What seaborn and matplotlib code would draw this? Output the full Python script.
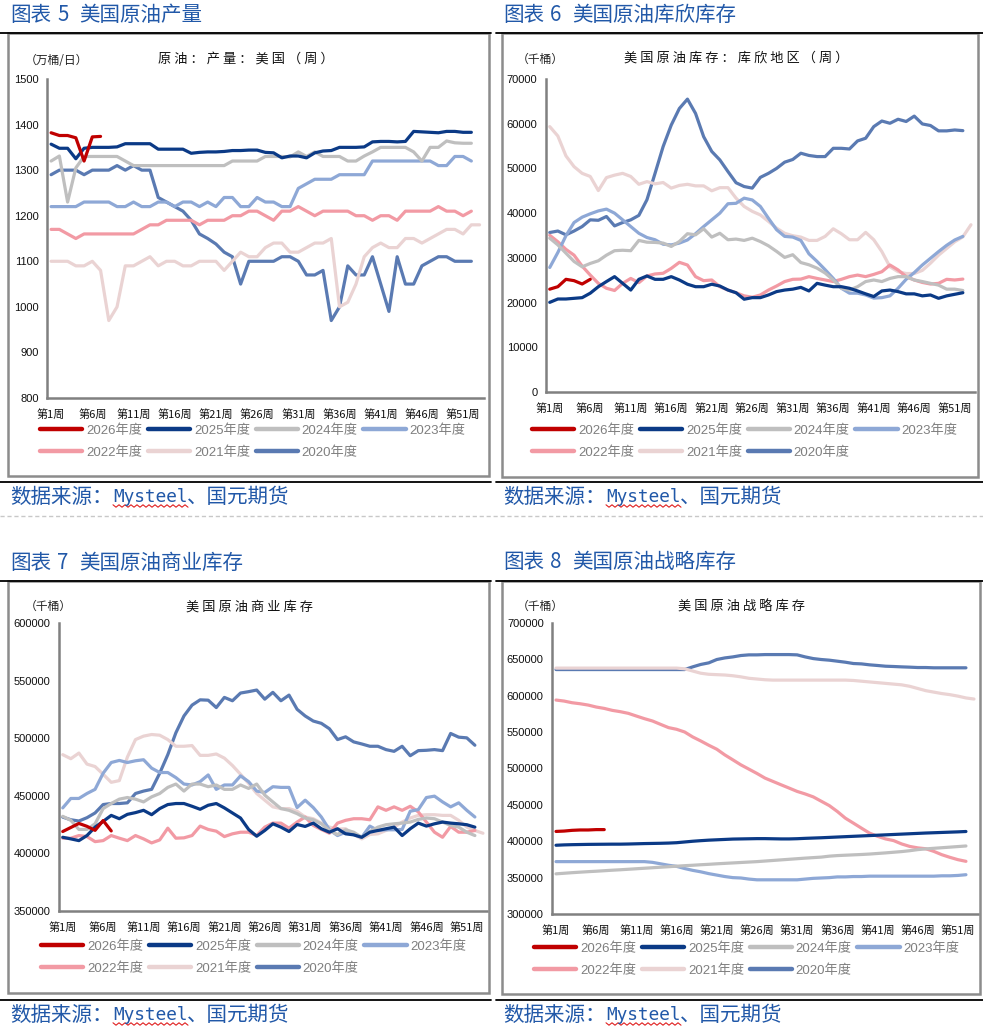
import numpy as np
import pandas as pd
import matplotlib
matplotlib.use("Agg")
import matplotlib.pyplot as plt
import seaborn as sns
from matplotlib.lines import Line2D
from matplotlib.patches import Rectangle

# ---------------- data ----------------
years = ["2026年度", "2025年度", "2024年度", "2023年度", "2022年度", "2021年度", "2020年度"]
week_tick_values = [1, 6, 11, 16, 21, 26, 31, 36, 41, 46, 51]
week_tick_labels = ["第%d周" % w for w in week_tick_values]

# Panel 1: US crude production (万桶/日)
prod_2026 = [1382, 1376, 1376, 1371, 1320, 1373, 1374]
prod_2025 = [1357, 1348, 1348, 1325, 1348, 1350, 1350, 1350, 1351, 1358, 1358, 1358, 1358, 1346, 1346, 1346, 1346,
             1337, 1339, 1340, 1340, 1341, 1343, 1343, 1344, 1344, 1339, 1338, 1327, 1331, 1331, 1327, 1338, 1342,
             1343, 1350, 1350, 1350, 1351, 1362, 1363, 1363, 1362, 1363, 1385, 1384, 1383, 1382, 1385, 1385, 1383, 1383]
prod_2024 = [1320, 1331, 1230, 1305, 1330, 1330, 1330, 1330, 1330, 1320, 1310, 1310, 1310, 1310, 1310, 1310, 1310,
             1310, 1310, 1310, 1310, 1310, 1320, 1320, 1320, 1320, 1330, 1330, 1330, 1329, 1340, 1330, 1340, 1330,
             1330, 1330, 1320, 1320, 1331, 1340, 1350, 1350, 1350, 1350, 1340, 1320, 1350, 1350, 1364, 1360, 1359, 1359]
prod_2023 = [1220, 1220, 1220, 1220, 1230, 1230, 1230, 1230, 1220, 1220, 1230, 1220, 1220, 1230, 1230, 1220, 1230,
             1230, 1220, 1230, 1220, 1240, 1240, 1220, 1220, 1240, 1230, 1230, 1220, 1220, 1260, 1270, 1280, 1280,
             1280, 1290, 1290, 1290, 1290, 1320, 1320, 1320, 1320, 1320, 1320, 1320, 1320, 1310, 1310, 1330, 1330, 1320]
prod_2022 = [1170, 1170, 1160, 1150, 1160, 1160, 1160, 1160, 1160, 1160, 1160, 1170, 1180, 1180, 1190, 1190, 1190,
             1190, 1180, 1190, 1190, 1190, 1200, 1200, 1210, 1210, 1200, 1190, 1210, 1210, 1220, 1210, 1200, 1210,
             1210, 1210, 1210, 1200, 1200, 1190, 1200, 1200, 1190, 1210, 1210, 1210, 1210, 1220, 1210, 1210, 1200, 1210]
prod_2021 = [1100, 1100, 1100, 1090, 1090, 1100, 1080, 970, 1000, 1090, 1090, 1100, 1110, 1090, 1100, 1100, 1090,
             1090, 1100, 1100, 1100, 1080, 1100, 1120, 1110, 1110, 1130, 1140, 1140, 1120, 1120, 1130, 1140, 1140,
             1150, 1000, 1010, 1050, 1110, 1130, 1140, 1130, 1130, 1150, 1150, 1140, 1150, 1160, 1170, 1170, 1160,
             1180, 1180]
prod_2020 = [1290, 1300, 1300, 1300, 1290, 1300, 1300, 1300, 1310, 1300, 1310, 1300, 1300, 1240, 1230, 1220, 1210,
             1190, 1160, 1150, 1138, 1120, 1110, 1050, 1100, 1100, 1100, 1100, 1110, 1110, 1100, 1070, 1070, 1080,
             970, 1000, 1090, 1070, 1070, 1110, 1050, 990, 1110, 1050, 1050, 1090, 1100, 1110, 1110, 1100, 1100, 1100]

# Panel 2: Cushing crude stocks (千桶)
cush_2026 = [23000, 23550, 25200, 24900, 24150, 25200]
cush_2025 = [20050, 20800, 20800, 20950, 21100, 22100, 23550, 24700, 25800, 24300, 22800, 25200, 25950, 25200,
             25200, 25800, 25050, 24100, 23550, 23550, 24100, 23700, 22800, 22200, 20750, 21100, 21100, 21700,
             22450, 22800, 23000, 23400, 22600, 24300, 23900, 23550, 23550, 23200, 22600, 21950, 21350, 22600,
             22800, 22450, 21950, 21950, 21500, 21700, 20950, 21500, 21850, 22200]
cush_2024 = [34400, 32900, 31050, 29200, 28000, 28750, 29350, 30600, 31600, 31700, 31600, 33900, 33500, 33450,
             33300, 32550, 33650, 35400, 35150, 36500, 34650, 35500, 34050, 34200, 33900, 34400, 33650, 32700,
             31450, 30100, 30700, 28950, 28450, 27700, 26600, 25050, 23200, 22800, 23550, 24700, 25050, 24700,
             25400, 25800, 25800, 25050, 24700, 24300, 23900, 23000, 23000, 22700]
cush_2023 = [27850, 31200, 34950, 37900, 39100, 39850, 40500, 40900, 40000, 38500, 37000, 35500, 34550, 34050,
             33050, 32900, 33300, 34000, 35400, 37000, 38500, 40000, 42100, 42200, 43350, 42950, 41500, 38850,
             36300, 34800, 34650, 33900, 30900, 29200, 27350, 25400, 23200, 22100, 22100, 21700, 21000, 21100,
             21500, 23200, 25200, 26700, 28400, 29900, 31400, 32800, 34000, 34800]
cush_2022 = [35050, 33600, 31900, 30600, 28150, 26150, 24300, 23200, 22700, 24300, 25400, 24450, 25950, 26400,
             26550, 27650, 29000, 28400, 25800, 24900, 25050, 23550, 22800, 22200, 21500, 21200, 21700, 22800,
             23700, 24700, 25200, 25250, 25800, 25400, 25050, 24700, 25200, 25800, 26150, 25800, 26300, 26900,
             28400, 27300, 25800, 25050, 24500, 24150, 24300, 25200, 25050, 25250]
cush_2021 = [59350, 57250, 52800, 50400, 48900, 48200, 45050, 47950, 48500, 48900, 48200, 46450, 47050, 46550,
             46850, 45600, 46200, 46450, 46100, 46100, 45000, 45700, 45700, 43350, 41500, 40400, 39600, 38150,
             36650, 35500, 34950, 34650, 33900, 33900, 34800, 36500, 35400, 34050, 34050, 35700, 34050, 31400,
             28000, 26900, 26500, 26500, 27200, 28800, 30600, 32100, 33600, 34700, 37400]
cush_2020 = [35670, 36000, 35150, 36000, 37000, 38500, 38400, 39250, 37150, 37900, 38500, 39500, 43000, 48900,
             54900, 59700, 63400, 65500, 62300, 57100, 53800, 51900, 49300, 46800, 45950, 45600, 48000, 48900,
             50000, 51400, 52000, 53400, 52900, 52650, 52650, 54500, 54500, 54350, 56150, 56750, 59350, 60600,
             60100, 61000, 60500, 61700, 59950, 59600, 58400, 58400, 58600, 58450]

# Panel 3: US commercial crude stocks (千桶)
comm_2026 = [419000, 422500, 426000, 423500, 420000, 428500, 419500]
comm_2025 = [414000, 412600, 411100, 415500, 422800, 427800, 433000, 430100, 433900, 435400, 437400, 433600,
             438900, 442400, 443300, 443300, 440900, 438300, 441800, 443300, 439500, 435100, 430700, 420800,
             414900, 419900, 425700, 422800, 419000, 425100, 423400, 426300, 421400, 418400, 421400, 417000,
             416100, 414000, 418400, 419900, 421400, 422800, 415500, 421400, 426300, 423700, 425700, 427200,
             426300, 425700, 424900, 422800]
comm_2024 = [432200, 428700, 420800, 420800, 425700, 438900, 443300, 447100, 448500, 447100, 444700, 449100,
             452000, 457300, 460200, 454100, 460200, 460200, 457900, 459400, 455600, 455600, 459400, 456400,
             460200, 450600, 444700, 438900, 437400, 434500, 430700, 429200, 425700, 419900, 416400, 420500,
             418400, 414000, 419000, 422800, 424900, 425700, 426300, 427200, 429500, 430700, 430100, 427200,
             424300, 422800, 418400, 415500]
comm_2023 = [439500, 447700, 447700, 452000, 455600, 469600, 478900, 480700, 478900, 480400, 481300, 474000,
             470200, 470200, 465800, 460200, 459400, 462300, 468100, 455600, 459400, 459400, 467300, 462300,
             454100, 452900, 457900, 457300, 457300, 439800, 446200, 439800, 431600, 420500, 415500, 418400,
             416400, 414000, 423700, 419900, 420500, 420500, 420800, 436600, 438000, 448500, 449700, 444700,
             440400, 443900, 437400, 431600]
comm_2022 = [413200, 413200, 415500, 414600, 410200, 411100, 415500, 413200, 411100, 415500, 412600, 409100,
             411700, 421900, 413200, 413500, 415500, 423700, 420800, 419300, 414600, 417000, 418400, 418400,
             415500, 422800, 426300, 426300, 421900, 427200, 431600, 424300, 420800, 417500, 426300, 428700,
             430100, 430100, 429200, 440400, 437400, 440400, 437400, 440900, 436000, 427200, 418400, 414000,
             423400, 418400, 418400, 419900]
comm_2021 = [485700, 482200, 487100, 477500, 475400, 468700, 461700, 463200, 483600, 498800, 501800, 503200,
             502600, 498800, 493000, 493000, 493600, 485100, 485100, 486300, 482700, 476300, 468700, 460800,
             452000, 446200, 440400, 438900, 438900, 436600, 431600, 430100, 426300, 422800, 421100, 421400,
             416400, 412600, 416400, 417000, 419900, 422800, 427200, 430700, 433000, 433600, 433600, 433000,
             433000, 428700, 422800, 419900, 417500]
comm_2020 = [431500, 429200, 428100, 431000, 435100, 442400, 443300, 443300, 443900, 452000, 454100, 455600,
             469600, 485700, 504700, 519300, 528700, 533300, 533000, 526600, 535400, 532500, 539200, 540400,
             541800, 533900, 539800, 532500, 537400, 525100, 519300, 514900, 512900, 508200, 498800, 501200,
             496800, 495000, 493000, 493000, 490100, 488600, 493000, 484800, 489200, 489500, 490100, 489200,
             504100, 500900, 500300, 493900]

# Panel 4: US strategic petroleum reserve (千桶)
spr_2026 = [413500, 414000, 415000, 415500, 415500, 416000, 416000]
spr_2025 = [394500, 395000, 395300, 395500, 395700, 395800, 395900, 396000, 396000, 396200,
            396500, 396800, 397000, 397200, 397500, 398000, 399000, 400000, 400800, 401500,
            402000, 402500, 403000, 403200, 403400, 403600, 403600, 403400, 403200, 403200,
            403500, 404000, 404400, 404800, 405300, 405800, 406300, 406800, 407300, 407800,
            408300, 408800, 409300, 409800, 410300, 410800, 411300, 411700, 412100, 412500, 412900, 413400]
spr_2024 = [355200, 356000, 356800, 357500, 358200, 358800, 359500, 360200, 360800, 361500,
            362200, 362900, 363600, 364300, 365000, 365700, 366400, 367000, 367700, 368300,
            369000, 369600, 370200, 370800, 371400, 372000, 372800, 373600, 374400, 375200,
            376000, 376800, 377500, 378200, 379500, 380300, 380800, 381300, 381800, 382400,
            383200, 384000, 384900, 385800, 387000, 388500, 389500, 390300, 391100, 391900, 392700, 393500]
spr_2023 = [372000, 372000, 372000, 372000, 372000, 372000, 372000, 372000, 372000, 372000, 372000, 372000,
            371000, 369000, 367000, 365500, 362500, 360000, 358000, 355500, 353500, 351500, 350000, 349500,
            348000, 347000, 347000, 347000, 347000, 347000, 347000, 348000, 349000, 349500, 350000, 351000,
            351000, 351500, 351500, 352000, 352000, 352000, 352000, 352000, 352000, 352000, 352000, 352000,
            352500, 352500, 353000, 354000]
spr_2022 = [594100, 592700, 590400, 589000, 587200, 584500, 582600, 579900, 578100, 575800,
            572100, 568500, 565300, 560700, 556200, 553900, 550200, 543400, 537900, 532000,
            526500, 518700, 511900, 505000, 499100, 493200, 486800, 482200, 477600, 473100,
            468500, 465000, 461000, 455000, 449000, 440900, 431700, 424900, 418000, 411200,
            406800, 403200, 400900, 396300, 392900, 390900, 389700, 386100, 381500, 377900, 374700, 372400]
spr_2021 = [638000] * 16 + [637000, 634000, 631000, 629500, 629000, 628500, 627500, 626000, 624000, 623000,
                            622000, 621500, 621500, 621500, 621500, 621500, 621500, 621500, 621500, 621500,
                            621500, 621000, 620000, 619000, 618000, 617000, 616000, 615000, 613000, 610000,
                            607000, 605000, 603000, 601500, 599500, 597000, 595500]
spr_2020 = [636000] * 17 + [639700, 643000, 645200, 649800, 652000, 653400, 655300, 656200, 656200, 656600,
                            656600, 656600, 656600, 656200, 653400, 651100, 649800, 648900, 647500, 646100,
                            644300, 643800, 642500, 641600, 640600, 640200, 639700, 639300, 638800, 638800,
                            638400, 638400, 638400, 638400, 638400]

colors = {
    "2026年度": "#C00000",
    "2025年度": "#0B3A86",
    "2024年度": "#BFBFBF",
    "2023年度": "#8EA8D6",
    "2022年度": "#F29AA4",
    "2021年度": "#EAD3D3",
    "2020年度": "#5A7AB2",
}

# ---------------- style ----------------
sns.set_style("white")
plt.rcParams["font.family"] = ["Liberation Sans", "Noto Sans CJK SC"]
plt.rcParams["axes.unicode_minus"] = False

W, H = 983, 1032
fig = plt.figure(figsize=(W / 100, H / 100), dpi=100)
fig.patch.set_facecolor("white")

CJK = ["Noto Sans CJK SC", "DejaVu Sans"]
BLUE = "#2158A8"
GRAY = "#808080"


def fx(x):
    return x / W


def fy(y):
    return 1 - y / H


def hline(x0, x1, y, **kw):
    fig.add_artist(Line2D([fx(x0), fx(x1)], [fy(y), fy(y)], transform=fig.transFigure, **kw))


def box(x0, y0, x1, y1):
    fig.add_artist(Rectangle((fx(x0), fy(y1)), (x1 - x0) / W, (y1 - y0) / H, transform=fig.transFigure,
                             fill=False, ec="#8C8C8C", lw=1.8))


def make_df(series):
    rows = []
    for yr, vals in zip(years, series):
        for i, v in enumerate(vals):
            rows.append({"week": i + 1, "value": v, "year": yr})
    return pd.DataFrame(rows)


def spaced(s):
    return " ".join(list(s))


def panel(rect, series, ylim, yticks, title, title_xy, unit, unit_xy, legend_xy):
    l, t, r, b = rect
    ax = fig.add_axes([fx(l), fy(b), (r - l) / W, (b - t) / H])
    df = make_df(series)
    sns.lineplot(data=df, x="week", y="value", hue="year", hue_order=years, palette=colors,
                 linewidth=2.3, estimator=None, sort=False, ax=ax, legend=True)
    for i, ln in enumerate(ax.lines):
        ln.set_zorder(10 - i)
        ln.set_solid_joinstyle("round")
    ax.set_xlim(0.5, 53.5)
    ax.set_ylim(*ylim)
    ax.set_yticks(yticks)
    ax.set_yticklabels([str(v) for v in yticks])
    ax.set_xticks(week_tick_values)
    ax.set_xticklabels(week_tick_labels, family=CJK)
    ax.set_xticks(np.arange(0.5, 54.0, 1.0), minor=True)
    ax.tick_params(axis="x", which="major", length=0, pad=8, labelsize=8, labelcolor="#111111")
    ax.tick_params(axis="x", which="minor", length=4, width=1.2, color=GRAY, direction="out")
    ax.tick_params(axis="y", which="major", length=4, width=1.2, color=GRAY, direction="out",
                   pad=2, labelsize=8, labelcolor="#111111")
    ax.set_xlabel("")
    ax.set_ylabel("")
    for s in ["top", "right"]:
        ax.spines[s].set_visible(False)
    for s in ["left", "bottom"]:
        ax.spines[s].set_color(GRAY)
        ax.spines[s].set_linewidth(1.8)
    ax.grid(False)
    ax.patch.set_alpha(0)

    order = ["2026年度", "2022年度", "2025年度", "2021年度", "2024年度", "2020年度", "2023年度"]
    hs = [Line2D([0], [0], color=colors[lab], lw=3.2) for lab in order]
    ax.legend(hs, order, loc="upper left", bbox_to_anchor=(fx(legend_xy[0]), fy(legend_xy[1])),
              bbox_transform=fig.transFigure, ncol=4, frameon=False, borderpad=0, borderaxespad=0,
              handlelength=3.2, handletextpad=0.3, columnspacing=0.42, labelspacing=0.72,
              prop={"size": 9.5, "family": ["Liberation Sans", "Noto Sans CJK SC"]}, labelcolor="#7F7F7F")

    fig.text(fx(title_xy[0]), fy(title_xy[1]), spaced(title), ha="center", va="center", fontsize=9.5,
             family=CJK, color="#111111")
    fig.text(fx(unit_xy[0]), fy(unit_xy[1]), unit, ha="left", va="center", fontsize=8.5,
             family=CJK, color="#222222")
    return ax


def header(x, y, digit, name):
    fig.text(fx(x), fy(y), "图表", ha="left", va="center", fontsize=14.8, family=CJK, color=BLUE)
    fig.text(fx(x + 47), fy(y), digit, ha="left", va="center", fontsize=14.8, family=CJK, color=BLUE)
    fig.text(fx(x + 69), fy(y), name, ha="left", va="center", fontsize=14.8, family=CJK, color=BLUE)


def source(x, y):
    fig.text(fx(x), fy(y), "数据来源：", ha="left", va="center", fontsize=14.8, family=CJK, color=BLUE)
    fig.text(fx(x + 103), fy(y), "Mysteel", ha="left", va="center", fontsize=12.8,
             family=["DejaVu Sans Mono"], color=BLUE)
    fig.text(fx(x + 177), fy(y), "、国元期货", ha="left", va="center", fontsize=14.8, family=CJK, color=BLUE)
    xs = np.linspace(x + 103, x + 178, 26)
    ys = y + 9 + np.where(np.arange(26) % 2 == 0, -1.2, 1.2)
    fig.add_artist(Line2D(fx(xs), fy(ys), transform=fig.transFigure, color="#E02020", lw=0.8))


# ---------------- frames ----------------
hline(0, 491, 33, color="black", lw=1.3)
hline(496, 983, 33, color="black", lw=1.3)
box(8, 33, 489, 476)
box(502, 33, 978, 477)
hline(0, 491, 482, color="black", lw=1.3)
hline(496, 983, 482, color="black", lw=1.3)
hline(0, 983, 516, color="#C8C8C8", lw=1.0, ls=(0, (3, 2)))

hline(0, 491, 581, color="black", lw=1.3)
hline(496, 983, 581, color="black", lw=1.3)
box(8, 581, 489, 993)
box(502, 581, 980, 994)
hline(0, 491, 1000, color="black", lw=1.3)
hline(496, 983, 1000, color="black", lw=1.3)

header(10, 15, "5", "美国原油产量")
header(503, 15, "6", "美国原油库欣库存")
header(10, 563, "7", "美国原油商业库存")
header(503, 562, "8", "美国原油战略库存")

source(10, 497)
source(503, 497)
source(10, 1015)
source(503, 1015)

# ---------------- panels ----------------
panel((47, 79, 483.7, 398),
      [prod_2026, prod_2025, prod_2024, prod_2023, prod_2022, prod_2021, prod_2020],
      (800, 1500), list(range(800, 1501, 100)),
      "原油：产量：美国（周）", (246, 59), "（万桶/日）", (25, 60), (40, 424))

panel((545.7, 79, 975, 392),
      [cush_2026, cush_2025, cush_2024, cush_2023, cush_2022, cush_2021, cush_2020],
      (0, 70000), list(range(0, 70001, 10000)),
      "美国原油库存：库欣地区（周）", (736, 58), "（千桶）", (517, 59), (532, 424))

panel((58.7, 623, 487, 911),
      [comm_2026, comm_2025, comm_2024, comm_2023, comm_2022, comm_2021, comm_2020],
      (350000, 600000), list(range(350000, 600001, 50000)),
      "美国原油商业库存", (249, 607), "（千桶）", (25, 606), (41, 940))

panel((552, 623, 978, 914),
      [spr_2026, spr_2025, spr_2024, spr_2023, spr_2022, spr_2021, spr_2020],
      (300000, 700000), list(range(300000, 700001, 50000)),
      "美国原油战略库存", (742, 607), "（千桶）", (517, 606), (534, 942))

fig.savefig("out.png", dpi=100, facecolor="white")
